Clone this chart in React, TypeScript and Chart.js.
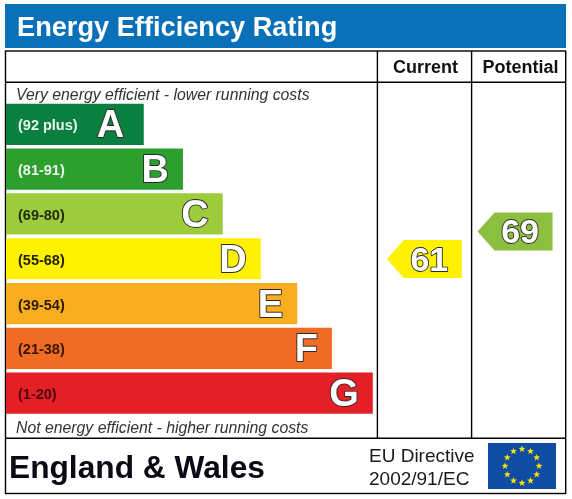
import { useEffect, useRef } from 'react';
import { Chart, registerables } from 'chart.js';

Chart.register(...registerables);

const titleText = 'Energy Efficiency Rating';
const columnHeaders = ['Current', 'Potential'];
const topNote = 'Very energy efficient - lower running costs';
const bottomNote = 'Not energy efficient - higher running costs';
const regionText = 'England & Wales';
const directiveLines = ['EU Directive', '2002/91/EC'];

// Bands, best first. Lengths are % of the plot width
const bandRanges = ['(92 plus)', '(81-91)', '(69-80)', '(55-68)', '(39-54)', '(21-38)', '(1-20)'];
const bandLetters = ['A', 'B', 'C', 'D', 'E', 'F', 'G'];
const bandLengths = [24.6, 31.6, 38.7, 45.5, 52, 58.2, 65.5];
const bandColors = ['#0a7f3f', '#2c9f2e', '#9dcb3c', '#fff200', '#f8ae1e', '#f06b23', '#e41f26'];
const rangeColors = ['#e8f4ec', '#e8f4ec', '#1f2a10', '#222200', '#2a1a00', '#3a1500', '#4a0a0c'];

const ratings = [61, 69];
const ratingColors = ['#fff200', '#8cbf3f'];

const LEFT = 5.5;
const RIGHT = 565.7;
const TOP = 51;
const BOTTOM = 493.5;
const HEADER_Y = 82.3;
const FOOTER_Y = 438.3;
const COL_1 = 377.4;
const COL_2 = 471.6;
const SANS = '"Liberation Sans", Arial, sans-serif';

function text(ctx: CanvasRenderingContext2D, str: string, x: number, y: number, font: string, color: string) {
  ctx.font = font;
  ctx.fillStyle = color;
  ctx.fillText(str, x, y);
}

function outlined(ctx: CanvasRenderingContext2D, str: string, x: number, y: number, font: string) {
  ctx.font = font;
  ctx.lineJoin = 'round';
  ctx.lineWidth = 1.8;
  ctx.strokeStyle = '#2a2a2a';
  ctx.strokeText(str, x, y);
  ctx.fillStyle = '#ffffff';
  ctx.fillText(str, x, y);
}

function star(ctx: CanvasRenderingContext2D, cx: number, cy: number, r: number) {
  ctx.beginPath();
  for (let i = 0; i < 10; i++) {
    const a = -Math.PI / 2 + (i * Math.PI) / 5;
    const d = i % 2 === 0 ? r : r * 0.42;
    ctx.lineTo(cx + d * Math.cos(a), cy + d * Math.sin(a));
  }
  ctx.closePath();
  ctx.fill();
}

// Page furniture behind the bars: title band and the table frame
const framePlugin = {
  id: 'frame',
  beforeDraw(chart: Chart) {
    const ctx = chart.ctx;
    ctx.save();
    ctx.fillStyle = '#ffffff';
    ctx.fillRect(0, 0, chart.width, chart.height);
    ctx.fillStyle = '#0a70b8';
    ctx.fillRect(5, 4, 561, 44);
    ctx.textBaseline = 'alphabetic';
    ctx.textAlign = 'left';
    text(ctx, titleText, 17, 35.5, `bold 27.2px ${SANS}`, '#ffffff');

    ctx.strokeStyle = '#000000';
    ctx.lineWidth = 1.4;
    ctx.strokeRect(LEFT, TOP, RIGHT - LEFT, BOTTOM - TOP);
    ctx.beginPath();
    ctx.moveTo(LEFT, HEADER_Y);
    ctx.lineTo(RIGHT, HEADER_Y);
    ctx.moveTo(LEFT, FOOTER_Y);
    ctx.lineTo(RIGHT, FOOTER_Y);
    ctx.moveTo(COL_1, TOP);
    ctx.lineTo(COL_1, FOOTER_Y);
    ctx.moveTo(COL_2, TOP);
    ctx.lineTo(COL_2, FOOTER_Y);
    ctx.stroke();

    text(ctx, columnHeaders[0], 393, 72.5, `bold 18px ${SANS}`, '#111111');
    text(ctx, columnHeaders[1], 482.5, 72.5, `bold 18px ${SANS}`, '#111111');
    text(ctx, topNote, 16, 100, `italic 15.8px ${SANS}`, '#333333');
    text(ctx, bottomNote, 16, 433, `italic 15.8px ${SANS}`, '#333333');
    text(ctx, regionText, 9, 478, `bold 31.7px ${SANS}`, '#0a0a14');
    text(ctx, directiveLines[0], 369, 462, `19px ${SANS}`, '#1a1a1a');
    text(ctx, directiveLines[1], 369, 485, `19px ${SANS}`, '#1a1a1a');

    // EU flag
    ctx.fillStyle = '#0f4da2';
    ctx.fillRect(488, 443, 68, 46);
    ctx.fillStyle = '#ffe000';
    for (let i = 0; i < 12; i++) {
      const a = (i * Math.PI) / 6;
      star(ctx, 522 + 17 * Math.sin(a), 466 - 17 * Math.cos(a), 3.6);
    }
    ctx.restore();
  },
};

// Letters on the bars and the rating arrows, placed from the chart's own elements
const marksPlugin = {
  id: 'marks',
  afterDatasetsDraw(chart: Chart) {
    const ctx = chart.ctx;
    ctx.save();
    ctx.textBaseline = 'alphabetic';
    ctx.textAlign = 'right';
    chart.getDatasetMeta(0).data.forEach((bar: any, i: number) => {
      outlined(ctx, bandLetters[i], bar.x - (i === 0 ? 19.5 : 14), bar.y + 13, `bold 38px ${SANS}`);
    });

    ctx.textAlign = 'center';
    chart.getDatasetMeta(1).data.forEach((pt: any, i: number) => {
      const halfW = 37.5;
      const halfH = 19;
      ctx.fillStyle = ratingColors[i];
      ctx.beginPath();
      ctx.moveTo(pt.x - halfW, pt.y);
      ctx.lineTo(pt.x - halfW + 17, pt.y - halfH);
      ctx.lineTo(pt.x + halfW, pt.y - halfH);
      ctx.lineTo(pt.x + halfW, pt.y + halfH);
      ctx.lineTo(pt.x - halfW + 17, pt.y + halfH);
      ctx.closePath();
      ctx.fill();
      outlined(ctx, String(ratings[i]), pt.x + 5, pt.y + 12, `bold 34px ${SANS}`);
    });
    ctx.restore();
  },
};

export default function App() {
  const canvasRef = useRef<HTMLCanvasElement>(null);

  useEffect(() => {
    if (!canvasRef.current) return;
    const chart = new Chart(canvasRef.current, {
      type: 'bar',
      data: {
        labels: bandRanges,
        datasets: [
          {
            data: bandLengths,
            backgroundColor: bandColors,
            barPercentage: 0.92,
            categoryPercentage: 1,
            grouped: false,
            order: 2,
          },
          {
            type: 'scatter',
            // arrows sit in the two rating columns, height follows the score
            data: ratings.map((r, i) => ({ x: i === 0 ? 74.7 : 90.9, y: r })),
            xAxisID: 'x',
            yAxisID: 'score',
            pointRadius: 0,
            order: 1,
          },
        ],
      } as any,
      options: {
        indexAxis: 'y',
        animation: false,
        responsive: false,
        layout: { padding: { left: 6, right: 6, top: 102, bottom: 83.5 } },
        plugins: { legend: { display: false }, tooltip: { enabled: false } },
        scales: {
          x: { type: 'linear', min: 0, max: 100, display: false },
          y: {
            type: 'category',
            border: { display: false },
            grid: { display: false, drawTicks: false },
            // labels sit inside the bars, so the axis takes no room
            afterFit: (scale: any) => {
              scale.width = 0;
            },
            ticks: {
              z: 1,
              mirror: true,
              padding: 12,
              labelOffset: 2,
              color: (c: any) => rangeColors[c.index],
              font: { family: SANS, size: 14.5, weight: 'bold' },
            },
          },
          // bar charts give their index axis an offset by default, the score axis must not have it
          score: { type: 'linear', axis: 'y', position: 'right', offset: false, min: 15.5, max: 106.6, display: false },
        },
      } as any,
      plugins: [framePlugin, marksPlugin],
    });
    return () => chart.destroy();
  }, []);

  return (
    <div style={{ position: 'fixed', left: 0, top: 0 }}>
      <canvas ref={canvasRef} width={572} height={499} style={{ display: 'block' }} />
    </div>
  );
}
